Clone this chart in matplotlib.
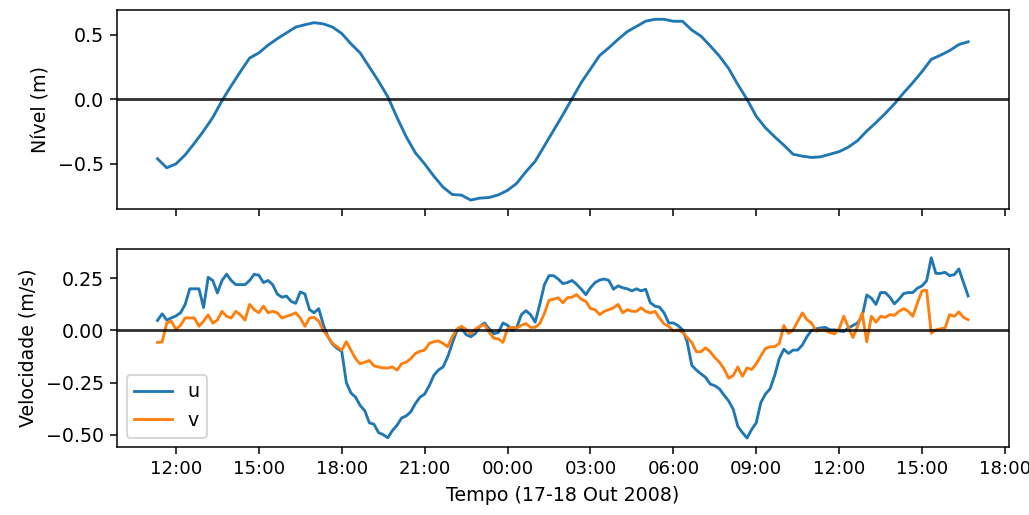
import numpy as np
import pandas as pd
import matplotlib
matplotlib.use("Agg")
import matplotlib.pyplot as plt
import matplotlib.dates as mdates
from matplotlib.ticker import MultipleLocator

# Nivel medido a cada 20 min, a partir de 17/10/2008 11:20
nivel_inicio = "2008-10-17 11:20"
nivel = [
    -0.46, -0.53, -0.50, -0.43, -0.34, -0.245, -0.14, -0.01, 0.105, 0.215,
    0.32, 0.36, 0.42, 0.47, 0.515, 0.56, 0.578, 0.594, 0.585, 0.56,
    0.51, 0.43, 0.36, 0.25, 0.14, 0.02, -0.14, -0.29, -0.415, -0.50,
    -0.595, -0.68, -0.737, -0.742, -0.78, -0.765, -0.76, -0.74, -0.705, -0.65,
    -0.56, -0.48, -0.36, -0.24, -0.12, 0.005, 0.13, 0.235, 0.34, 0.40,
    0.465, 0.525, 0.565, 0.606, 0.62, 0.62, 0.605, 0.605, 0.537, 0.49,
    0.415, 0.335, 0.24, 0.115, 0.0, -0.131, -0.22, -0.29, -0.355, -0.425,
    -0.44, -0.45, -0.445, -0.425, -0.405, -0.37, -0.32, -0.245, -0.18, -0.11,
    -0.035, 0.05, 0.13, 0.215, 0.31, 0.342, 0.378, 0.425, 0.446,
]

# Componentes da velocidade a cada 10 min, mesmo inicio
vel_inicio = "2008-10-17 11:20"
u = [
    # 11:20 - 16:50
    0.048, 0.08, 0.05, 0.06, 0.07, 0.085, 0.125, 0.20, 0.20, 0.20,
    0.11, 0.255, 0.24, 0.18, 0.24, 0.27, 0.24, 0.22, 0.22, 0.22,
    0.24, 0.27, 0.265, 0.23, 0.24, 0.22, 0.175, 0.16, 0.165, 0.14,
    0.13, 0.185, 0.175, 0.10,
    # 17:00 - 22:50
    0.085, 0.105, 0.028, -0.03, -0.066, -0.086, -0.10, -0.25, -0.30, -0.32,
    -0.36, -0.385, -0.443, -0.45, -0.49, -0.50, -0.515, -0.48, -0.455, -0.42,
    -0.41, -0.39, -0.35, -0.32, -0.305, -0.265, -0.215, -0.19, -0.175, -0.127,
    -0.062, 0.0, 0.012, -0.02, -0.03, -0.015,
    # 23:00 - 04:50
    0.02, 0.036, 0.008, -0.016, -0.01, 0.036, 0.025, 0.0, 0.015, 0.076,
    0.095, 0.076, 0.04, 0.125, 0.22, 0.263, 0.263, 0.247, 0.225, 0.23,
    0.24, 0.222, 0.198, 0.172, 0.205, 0.23, 0.242, 0.247, 0.24, 0.198,
    0.214, 0.205, 0.2, 0.19, 0.2, 0.19,
    # 05:00 - 10:50
    0.198, 0.133, 0.117, 0.112, 0.084, 0.036, 0.036, 0.024, 0.003, -0.054,
    -0.167, -0.19, -0.208, -0.225, -0.257, -0.265, -0.28, -0.31, -0.338, -0.378,
    -0.46, -0.49, -0.516, -0.475, -0.443, -0.346, -0.305, -0.28, -0.216, -0.135,
    -0.09, -0.11, -0.094, -0.094, -0.07, -0.03,
    # 11:00 - 16:40
    0.0, 0.008, 0.012, 0.015, 0.003, 0.003, -0.002, -0.005, 0.012, 0.024,
    0.036, 0.068, 0.17, 0.155, 0.125, 0.182, 0.182, 0.16, 0.128, 0.15,
    0.177, 0.182, 0.182, 0.203, 0.214, 0.239, 0.349, 0.274, 0.274, 0.279,
    0.263, 0.268, 0.295, 0.23, 0.166,
]
v = [
    # 11:20 - 16:50
    -0.057, -0.055, 0.036, 0.045, 0.005, 0.025, 0.06, 0.06, 0.06, 0.02,
    0.045, 0.075, 0.035, 0.05, 0.092, 0.068, 0.06, 0.092, 0.075, 0.05,
    0.125, 0.10, 0.085, 0.117, 0.085, 0.092, 0.085, 0.06, 0.068, 0.075,
    0.085, 0.06, 0.02, 0.06,
    # 17:00 - 22:50
    0.063, 0.045, 0.0, -0.03, -0.062, -0.078, -0.094, -0.054, -0.094, -0.135,
    -0.16, -0.152, -0.144, -0.17, -0.175, -0.18, -0.18, -0.175, -0.19, -0.16,
    -0.152, -0.135, -0.11, -0.10, -0.094, -0.062, -0.054, -0.05, -0.062, -0.078,
    -0.03, 0.007, 0.02, 0.005, -0.016, 0.007,
    # 23:00 - 04:50
    0.02, 0.028, -0.008, -0.037, -0.04, -0.057, 0.008, 0.015, 0.012, 0.025,
    0.033, 0.015, 0.015, 0.033, 0.082, 0.145, 0.15, 0.157, 0.133, 0.157,
    0.16, 0.172, 0.15, 0.14, 0.105, 0.10, 0.076, 0.092, 0.10, 0.109,
    0.125, 0.085, 0.10, 0.092, 0.092, 0.109,
    # 05:00 - 10:50
    0.092, 0.084, 0.092, 0.06, 0.031, 0.02, -0.002, 0.003, -0.008, -0.034,
    -0.057, -0.102, -0.102, -0.083, -0.102, -0.13, -0.152, -0.184, -0.229, -0.216,
    -0.175, -0.22, -0.18, -0.187, -0.16, -0.122, -0.086, -0.078, -0.078, -0.062,
    0.024, -0.014, 0.003, 0.044, 0.084, 0.052,
    # 11:00 - 16:40
    0.036, -0.003, 0.003, 0.0, -0.01, -0.016, 0.008, 0.068, 0.015, -0.034,
    0.02, 0.084, -0.054, 0.068, 0.04, 0.068, 0.063, 0.076, 0.073, 0.092,
    0.105, 0.092, 0.068, 0.133, 0.19, 0.193, -0.013, 0.003, 0.008, 0.012,
    0.076, 0.068, 0.089, 0.063, 0.052,
]

t_nivel = pd.date_range(nivel_inicio, periods=len(nivel), freq="20min")
t_vel = pd.date_range(vel_inicio, periods=len(u), freq="10min")

dpi = 137
fig = plt.figure(figsize=(1029 / dpi, 515 / dpi), dpi=dpi)
ax1 = fig.add_axes([0.1137, 0.594, 0.8665, 0.386])
ax2 = fig.add_axes([0.1137, 0.132, 0.8665, 0.385], sharex=ax1)

ax1.plot(t_nivel, nivel)
ax1.axhline(0, color="k", lw=1.5, alpha=0.8)
ax1.set_ylabel("Nível (m)")
ax1.tick_params(labelbottom=False)

ax2.plot(t_vel, u, label="u")
ax2.plot(t_vel, v, label="v")
ax2.axhline(0, color="k", lw=1.5, alpha=0.8)
ax2.set_ylabel("Velocidade (m/s)")
ax2.set_xlabel("Tempo (17-18 Out 2008)")
ax2.legend(loc="lower left")
ax2.yaxis.set_major_locator(MultipleLocator(0.25))

ax2.xaxis.set_major_locator(mdates.HourLocator(byhour=range(0, 24, 3)))
ax2.xaxis.set_major_formatter(mdates.DateFormatter("%H:%M"))
ax2.tick_params(axis="x", labelsize=9.5)

fig.savefig("out.png", dpi=dpi)
